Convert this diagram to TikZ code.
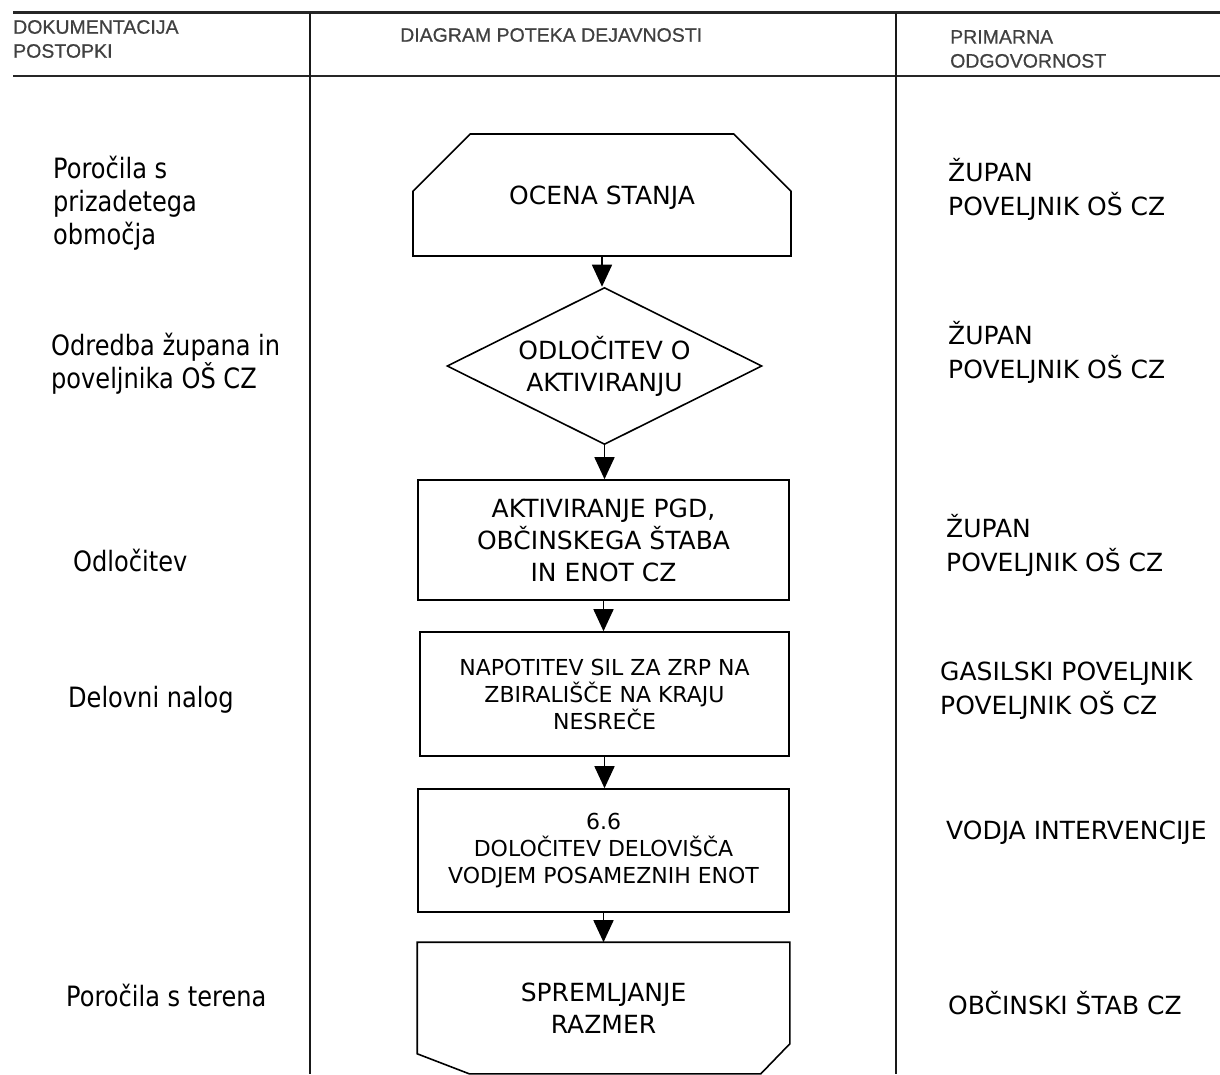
\documentclass[tikz,border=0pt]{standalone}
\usepackage{fontspec}
\setmainfont{DejaVu Sans}
\newfontfamily\leftfont[FakeStretch=0.86]{DejaVu Sans}
\newfontfamily\headfont[FakeBold=0.6]{Liberation Sans}
\usetikzlibrary{shapes.geometric,shapes.misc,arrows.meta,calc}
\begin{document}
\begin{tikzpicture}[x=1pt,y=-1pt,
  flowbox/.style={draw, line width=1.6pt, inner sep=0pt, align=center, font=\fontsize{25}{32}\selectfont},
  smallbox/.style={flowbox, font=\fontsize{22}{27}\selectfont},
  arr/.style={line width=1.6pt, -{Triangle[width=20pt,length=22pt]}},
  lefttext/.style={anchor=west, inner sep=0pt, align=left, font=\leftfont\fontsize{28}{33}\selectfont},
  righttext/.style={anchor=west, inner sep=0pt, align=left, font=\fontsize{25}{34}\selectfont},
  headtext/.style={anchor=west, inner sep=0pt, align=left, text=black!75, font=\headfont\fontsize{19.5}{24}\selectfont},
  hrule/.style={line width=2.6pt, black!85},
  vrule/.style={line width=1.8pt, black!90}]
\useasboundingbox (0,0) rectangle (1220,1074);
\fill[white] (0,0) rectangle (1220,1074);

% table
\draw[hrule] (13,12.5) -- (1220,12.5);
\draw[hrule] (13,76) -- (1220,76);
\draw[vrule] (310,12.5) -- (310,1074);
\draw[vrule] (896,12.5) -- (896,1074);

% headers
\node[headtext] (h1) at (13,39) {DOKUMENTACIJA\\POSTOPKI};
\node[headtext] (h2) at (400,35) {DIAGRAM POTEKA DEJAVNOSTI};
\node[headtext] (h3) at (950,49) {PRIMARNA\\ODGOVORNOST};

% flow
\node[flowbox, chamfered rectangle, chamfered rectangle corners={north west,north east},
      chamfered rectangle xsep=35pt, chamfered rectangle ysep=48pt,
      minimum width=378pt, minimum height=122pt, text depth=-4pt] (ocena) at (602,195) {OCENA STANJA};
\node[flowbox, diamond, shape aspect=2, minimum width=315pt, minimum height=157pt] (dia) at (604.5,366) {ODLOČITEV O\\AKTIVIRANJU};
\node[flowbox, minimum width=371pt, minimum height=120pt] (akt) at (603.5,540) {AKTIVIRANJE PGD,\\OBČINSKEGA ŠTABA\\IN ENOT CZ};
\node[smallbox, minimum width=369pt, minimum height=124pt] (nap) at (604.5,694) {NAPOTITEV SIL ZA ZRP NA\\ZBIRALIŠČE NA KRAJU\\NESREČE};
\node[smallbox, minimum width=371pt, minimum height=123pt] (dol) at (603.5,850.5) {6.6\\DOLOČITEV DELOVIŠČA\\VODJEM POSAMEZNIH ENOT};
\node[flowbox, draw=none, minimum width=371pt, minimum height=130pt] (spr) at (603.5,1008) {SPREMLJANJE\\RAZMER};
\draw[line width=1.6pt] (spr.north west) -- (spr.north east) -- ($(spr.south east)+(0,-30)$)
  -- ($(spr.south east)+(-29,0)$) -- ($(spr.south west)+(52,0)$) -- ($(spr.south west)+(0,-20)$) -- cycle;

\draw[arr] (ocena.south) -- (ocena.south |- dia.north);
\draw[arr] (dia.south) -- (dia.south |- akt.north);
\draw[arr] (akt.south) -- (akt.south |- nap.north);
\draw[arr] (nap.south) -- (nap.south |- dol.north);
\draw[arr] (dol.south) -- (dol.south |- spr.north);

% left column
\node[lefttext] (l1) at (53,203) {Poročila s\\prizadetega\\območja};
\node[lefttext] (l2) at (51,364) {Odredba župana in\\poveljnika OŠ CZ};
\node[lefttext] (l3) at (73,560) {Odločitev};
\node[lefttext] (l4) at (68,700) {Delovni nalog};
\node[lefttext] (l5) at (66,995) {Poročila s terena};

% right column
\node[righttext] (r1) at (948,189) {ŽUPAN\\POVELJNIK OŠ CZ};
\node[righttext] (r2) at (948,352) {ŽUPAN\\POVELJNIK OŠ CZ};
\node[righttext] (r3) at (946,545.5) {ŽUPAN\\POVELJNIK OŠ CZ};
\node[righttext] (r4) at (940,690.5) {GASILSKI POVELJNIK\\POVELJNIK OŠ CZ};
\node[righttext] (r5) at (946,833) {VODJA INTERVENCIJE};
\node[righttext] (r6) at (948,1003) {OBČINSKI ŠTAB CZ};
\end{tikzpicture}
\end{document}
